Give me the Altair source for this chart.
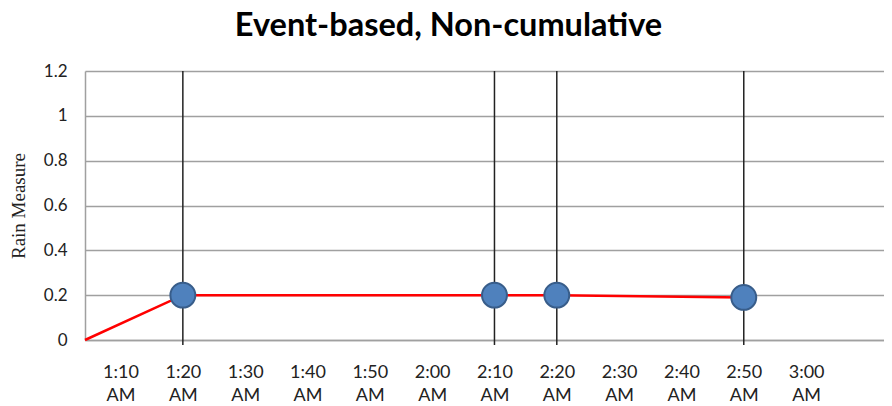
import json
import altair as alt
import pandas as pd

title_text = "Event-based, Non-cumulative"
y_title = "Rain Measure"

# time in minutes after midnight
line_minutes = [64.3, 80, 130, 140, 170]
line_values = [0.0, 0.2, 0.2, 0.2, 0.19]

event_minutes = [80, 130, 140, 170]
event_values = [0.2, 0.2, 0.2, 0.19]

tick_minutes = [70, 80, 90, 100, 110, 120, 130, 140, 150, 160, 170, 180]
tick_labels = ["1:10 AM", "1:20 AM", "1:30 AM", "1:40 AM", "1:50 AM", "2:00 AM",
               "2:10 AM", "2:20 AM", "2:30 AM", "2:40 AM", "2:50 AM", "3:00 AM"]
y_ticks = [0, 0.2, 0.4, 0.6, 0.8, 1.0, 1.2]

line_df = pd.DataFrame({"t": line_minutes, "v": line_values})
event_df = pd.DataFrame({"t": event_minutes, "v": event_values})

label_expr = "split(" + json.dumps(tick_labels) + "[indexof(" + json.dumps(tick_minutes) + ", datum.value)], ' ')"

xs = alt.Scale(domain=[64.3, 192.5], nice=False, zero=False)
ys = alt.Scale(domain=[0, 1.2], nice=False, zero=False)

grid_color = "#a0a0a0"

line = alt.Chart(line_df).mark_line(color="#FF0000", strokeWidth=2.5).encode(
    x=alt.X("t:Q", scale=xs, title=None,
            axis=alt.Axis(values=tick_minutes, labelExpr=label_expr, grid=False, ticks=False,
                          domain=True, domainColor=grid_color, domainWidth=1.5,
                          labelFont="Lato", labelFontSize=18, labelColor="#222",
                          labelPadding=23, labelLineHeight=23, labelBaseline="top",
                          labelAlign="center")),
    y=alt.Y("v:Q", scale=ys, title=y_title,
            axis=alt.Axis(values=y_ticks, format="~g", grid=True, gridColor=grid_color, gridWidth=1.5,
                          ticks=False, domain=True, domainColor=grid_color, domainWidth=1.5,
                          labelFont="Lato", labelFontSize=17, labelColor="#222", labelPadding=18,
                          titleFont="Liberation Serif", titleFontSize=19, titleFontWeight="normal",
                          titleColor="#222", titleX=-67, titleY=134.5, titleBaseline="middle",
                          titleAngle=270)),
)

rules = alt.Chart(event_df).mark_rule(color="#222222", strokeWidth=1.5).encode(
    x=alt.X("t:Q", scale=xs, title=None),
    y=alt.datum(1.2),
    y2=alt.datum(-0.022),
)

points = alt.Chart(event_df).mark_point(
    filled=True, shape="circle", size=620, fill="#4F81BD", stroke="#385D8A",
    strokeWidth=2, opacity=1
).encode(
    x=alt.X("t:Q", scale=xs, title=None),
    y=alt.Y("v:Q", scale=ys, title=y_title),
)

chart = alt.layer(line, rules, points).properties(
    width=799,
    height=269,
    autosize=alt.AutoSizeParams(type="none"),
    padding={"left": 77, "top": 63, "right": 0, "bottom": 66},
    title=alt.TitleParams(title_text, font="Lato", fontSize=32.5, fontWeight="bold", color="#000",
                          anchor="middle", frame="group", dx=-36, offset=-6, baseline="alphabetic"),
).configure_view(stroke=None)

chart.save("out.html", embed_options={"renderer": "svg", "actions": False})
